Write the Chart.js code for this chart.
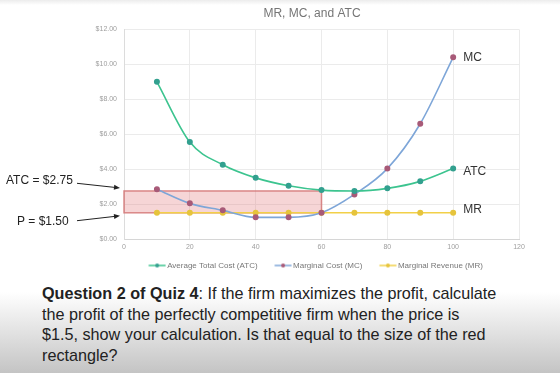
<!DOCTYPE html>
<html>
<head>
<meta charset="utf-8">
<script src="https://cdn.jsdelivr.net/npm/chart.js@4.4.0/dist/chart.umd.min.js"></script>
<style>
  html, body { margin: 0; padding: 0; }
  body {
    width: 560px; height: 373px; overflow: hidden; position: relative;
    font-family: "Liberation Sans", Arial, sans-serif;
    background: linear-gradient(to bottom, #ececec 0px, #ffffff 5px, #ffffff 292px, #c4c4c4 373px);
  }
  #chart { position: absolute; left: 0; top: 0; }
  #question {
    position: absolute; left: 42px; top: 283px;
    font-size: 16.2px; line-height: 20.5px; color: #222; white-space: nowrap;
  }
</style>
</head>
<body>
<canvas id="chart" width="560" height="280"></canvas>
<div id="question"><b>Question 2 of Quiz 4</b>: If the firm maximizes the profit, calculate<br>the profit of the perfectly competitive firm when the price is<br>$1.5, show your calculation. Is that equal to the size of the red<br>rectangle?</div>
<script>
// data
const quantity = [10, 20, 30, 40, 50, 60, 70, 80, 90, 100];
const atcValues = [9.0, 5.55, 4.25, 3.5, 3.05, 2.8, 2.75, 2.9, 3.3, 4.03];
const mcValues = [2.85, 2.04, 1.64, 1.24, 1.24, 1.5, 2.55, 4.03, 6.6, 10.4];
const mrValues = [1.5, 1.5, 1.5, 1.5, 1.5, 1.5, 1.5, 1.5, 1.5, 1.5];
const seriesNames = ['Average Total Cost (ATC)', 'Marginal Cost (MC)', 'Marginal Revenue (MR)'];
const endLabels = ['ATC', 'MC', 'MR'];
const profitRectQ = [0, 60];
const profitRectP = [1.5, 2.75];
const calloutText = ['ATC = $2.75', 'P = $1.50'];
const calloutValue = [2.75, 1.5];

const lineColors = ['#3cc48f', '#7ea6d8', '#f2d048'];
const pointColors = ['#33a08f', '#a85a78', '#e6c43c'];
const fontFamily = '"Liberation Sans", Arial, sans-serif';

function toPoints(values) {
    return quantity.map((q, i) => ({ x: q, y: values[i] }));
}

// widest y label, used to push the mirrored labels back outside the plot
const measure = document.createElement('canvas').getContext('2d');
measure.font = '7px ' + fontFamily;
const widestY = measure.measureText('$12.00').width;

// little "line with a dot" icons like the google sheets legend
function makeIcon(line, dot) {
    const c = document.createElement('canvas');
    c.width = 28;
    c.height = 6;
    const g = c.getContext('2d');
    g.strokeStyle = line;
    g.lineWidth = 1.5;
    g.beginPath();
    g.moveTo(10.5, 3);
    g.lineTo(27.5, 3);
    g.stroke();
    g.fillStyle = dot;
    g.beginPath();
    g.arc(19, 3, 2, 0, Math.PI * 2);
    g.fill();
    return c;
}
const legendIcons = lineColors.map((c, i) => makeIcon(c, pointColors[i]));

const profitRect = {
    id: 'profitRect',
    beforeDatasetsDraw(chart) {
        const { ctx, scales: { x, y } } = chart;
        const left = x.getPixelForValue(profitRectQ[0]);
        const right = x.getPixelForValue(profitRectQ[1]);
        const top = y.getPixelForValue(profitRectP[1]);
        const bottom = y.getPixelForValue(profitRectP[0]);
        ctx.save();
        ctx.fillStyle = 'rgba(225, 115, 120, 0.3)';
        ctx.fillRect(left, top, right - left, bottom - top);
        ctx.strokeStyle = 'rgba(212, 118, 118, 0.85)';
        ctx.lineWidth = 1.5;
        ctx.strokeRect(left, top, right - left, bottom - top);
        ctx.restore();
    }
};

const annotations = {
    id: 'annotations',
    afterDatasetsDraw(chart) {
        const { ctx, scales: { y }, chartArea } = chart;
        ctx.save();
        // series names at the end of each line
        const shift = [3, 0, -3];
        ctx.font = '12px ' + fontFamily;
        ctx.fillStyle = '#333';
        ctx.textBaseline = 'middle';
        chart.data.datasets.forEach((ds, i) => {
            const meta = chart.getDatasetMeta(i);
            const last = meta.data[meta.data.length - 1];
            ctx.fillText(endLabels[i], last.x + 10, last.y + shift[i]);
        });

        // callouts on the left with arrows
        const textX = [6, 17];
        const textY = [181, 221.5];
        const startX = [77, 77];
        const startY = [183.3, 220.7];
        const tipShift = [-3, 3];
        ctx.fillStyle = '#222';
        ctx.strokeStyle = '#222';
        ctx.lineWidth = 1;
        calloutText.forEach((t, i) => {
            ctx.fillText(t, textX[i], textY[i]);
            const tx = chartArea.left - 4;
            const ty = y.getPixelForValue(calloutValue[i]) + tipShift[i];
            const ang = Math.atan2(ty - startY[i], tx - startX[i]);
            ctx.beginPath();
            ctx.moveTo(startX[i], startY[i]);
            ctx.lineTo(tx - 5 * Math.cos(ang), ty - 5 * Math.sin(ang));
            ctx.stroke();
            ctx.beginPath();
            ctx.moveTo(tx, ty);
            ctx.lineTo(tx - 6 * Math.cos(ang) + 2.5 * Math.sin(ang), ty - 6 * Math.sin(ang) - 2.5 * Math.cos(ang));
            ctx.lineTo(tx - 6 * Math.cos(ang) - 2.5 * Math.sin(ang), ty - 6 * Math.sin(ang) + 2.5 * Math.cos(ang));
            ctx.closePath();
            ctx.fill();
        });
        ctx.restore();
    }
};

const allValues = [atcValues, mcValues, mrValues];

new Chart(document.getElementById('chart'), {
    type: 'line',
    data: {
        datasets: allValues.map((vals, i) => ({
            label: seriesNames[i],
            data: toPoints(vals),
            borderColor: lineColors[i],
            backgroundColor: pointColors[i],
            pointBackgroundColor: pointColors[i],
            pointBorderColor: pointColors[i],
            pointRadius: 2.2,
            borderWidth: 1.6,
            cubicInterpolationMode: 'monotone',
            fill: false
        }))
    },
    options: {
        responsive: false,
        animation: false,
        layout: { padding: { left: 105, right: 41, top: 0, bottom: 0.5 } },
        plugins: {
            title: {
                display: true,
                text: 'MR, MC, and ATC',
                color: '#757575',
                font: { family: fontFamily, size: 12, weight: 'normal' },
                padding: { top: 6, bottom: 9 }
            },
            legend: {
                position: 'bottom',
                labels: {
                    usePointStyle: true,
                    pointStyleWidth: 22,
                    boxHeight: 8,
                    padding: 9.5,
                    color: '#777',
                    font: { family: fontFamily, size: 8 },
                    generateLabels(chart) {
                        const items = Chart.defaults.plugins.legend.labels.generateLabels(chart);
                        items.forEach((item, i) => { item.pointStyle = legendIcons[i]; });
                        return items;
                    }
                }
            },
            tooltip: { enabled: false }
        },
        scales: {
            x: {
                type: 'linear',
                min: 0,
                max: 120,
                afterFit(s) { s.height = 13; },
                ticks: {
                    stepSize: 20,
                    padding: 4,
                    color: '#9e9e9e',
                    font: { family: fontFamily, size: 7 }
                },
                grid: { color: '#ebebeb', drawTicks: false },
                border: { color: '#d6d6d6' }
            },
            y: {
                min: 0,
                max: 12,
                afterFit(s) { s.width = 19; },
                ticks: {
                    stepSize: 2,
                    mirror: true,
                    crossAlign: 'far',
                    padding: -7 - widestY,
                    color: '#9e9e9e',
                    font: { family: fontFamily, size: 7 },
                    callback: v => '$' + v.toFixed(2)
                },
                grid: { color: '#ebebeb', drawTicks: false },
                border: { color: '#dcdcdc' }
            }
        }
    },
    plugins: [profitRect, annotations]
});
</script>
</body>
</html>
